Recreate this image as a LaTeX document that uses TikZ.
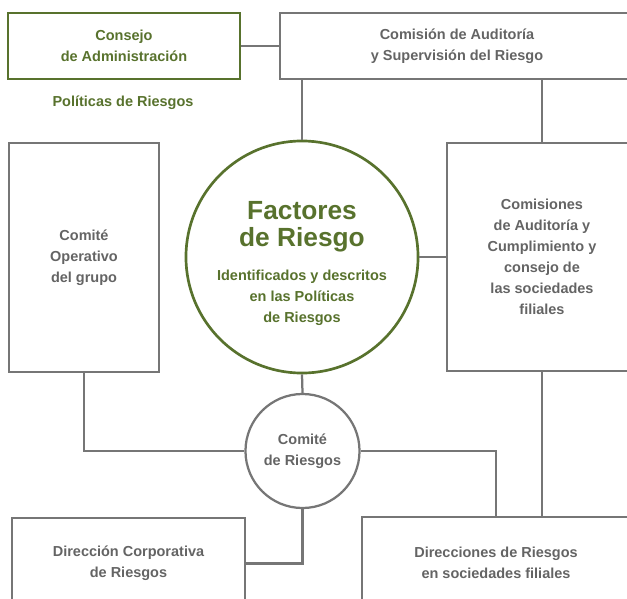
\documentclass[tikz,border=0pt]{standalone}
\usepackage{fontspec}
\setmainfont{Liberation Sans}
\usepackage{tikz}
\usetikzlibrary{positioning}
\definecolor{riskgreen}{RGB}{88,114,45}
\definecolor{linegray}{RGB}{118,118,118}
\definecolor{textgray}{RGB}{100,100,100}
\newcommand{\factorfont}{\fontsize{18.7}{19.2}\selectfont}

\tikzset{
  smalltext/.style={font=\fontsize{10.3}{15}\selectfont\bfseries, align=center},
  graybox/.style={draw=linegray, line width=1.6pt, rectangle, smalltext, text=textgray, inner sep=0pt},
  greenbox/.style={draw=riskgreen, line width=1.9pt, rectangle, smalltext, text=riskgreen, inner sep=0pt},
  link/.style={draw=linegray, line width=1.6pt}
}

\begin{document}
\begin{tikzpicture}[x=0.025cm, y=-0.025cm]
  \useasboundingbox (0,0) rectangle (627,599);
  \clip (0,0) rectangle (627,599);

  % top row
  \node[greenbox, minimum width=5.8cm, minimum height=1.65cm] (consejo) at (124,46)
    {Consejo\\de Administración};
  \node[graybox, minimum width=8.85cm, minimum height=1.65cm] (comision) at (457,46)
    {Comisión de Auditoría\\y Supervisión del Riesgo};
  \node[smalltext, text=riskgreen] (politicas) at (123,103) {Políticas de Riesgos};

  % middle row
  \node[greenbox, circle, minimum size=5.8cm] (factores) at (302,257)
    {\rule{0pt}{22pt}\factorfont Factores\\[4pt]\factorfont de Riesgo\\[9pt]
     Identificados y descritos\\en las Políticas\\de Riesgos};
  \node[graybox, minimum width=3.75cm, minimum height=5.725cm] (operativo) at (84,257.5)
    {Comité\\Operativo\\del grupo};
  \node[graybox, minimum width=4.75cm, minimum height=5.7cm] (comisiones) at (542,257)
    {Comisiones\\de Auditoría y\\Cumplimiento y\\consejo de\\las sociedades\\filiales};

  % lower part
  \node[graybox, circle, minimum size=2.85cm] (riesgos) at (302.5,451)
    {Comité\\de Riesgos};
  \node[graybox, minimum width=5.825cm, minimum height=2.275cm] (corporativa) at (128.5,563.5)
    {Dirección Corporativa\\de Riesgos};
  \node[graybox, minimum width=6.7cm, minimum height=2.3cm] (direcciones) at (496,563)
    {Direcciones de Riesgos\\en sociedades filiales};

  % connectors
  \path[link] (consejo.east) -- (comision.west);
  \path[link] (factores.north) -- (factores.north |- comision.south);
  \path[link] (comisiones.north) -- (comisiones.north |- comision.south);
  \path[link] (factores.east) -- (comisiones.west);
  \path[link] (factores.south) -- (riesgos.north);
  \path[link] (operativo.south) |- (riesgos.west);
  \path[link] (riesgos.east) -| (direcciones.north);
  \path[link] (comisiones.south) -- (comisiones.south |- direcciones.north);
  \path[link] (riesgos.south) |- (corporativa.east);
\end{tikzpicture}
\end{document}
